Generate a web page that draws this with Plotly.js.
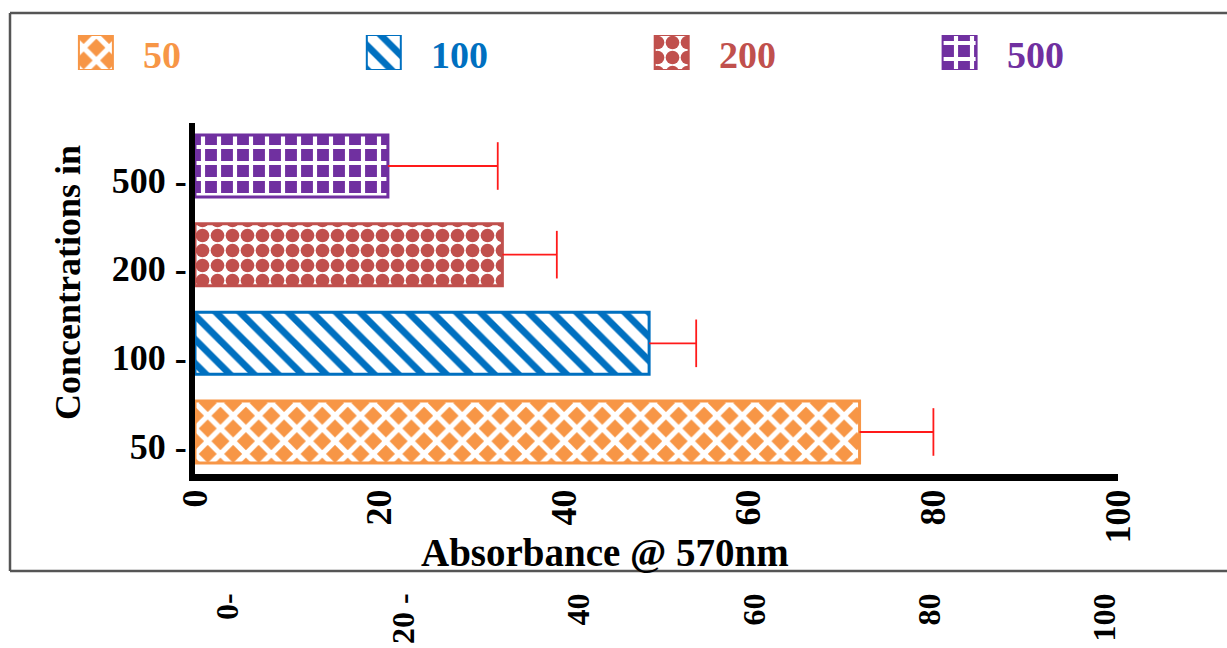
<!DOCTYPE html>
<html><head><meta charset="utf-8">
<script src="https://cdn.plot.ly/plotly-3.0.1.min.js"></script>
<style>html,body{margin:0;padding:0;background:#fff;}#chart{width:1227px;height:648px;}</style>
</head><body><div id="chart"></div>
<script>
// ---- data ----
const categories = ['50', '100', '200', '500'];
const absorbance = [72.0, 49.2, 33.3, 20.9];
const errorPlus = [8.0, 5.1, 5.9, 11.9];
const xTickValues = [0, 20, 40, 60, 80, 100];
const xTickLabels = ['0', '20', '40', '60', '80', '100'];
const lowerTickLabels = ['0-', '20 -', '40', '60', '80', '100'];
const xTitle = 'Absorbance @ 570nm';
const yTitle = 'Concentrations in';

// ---- styles ----
const seriesColors = ['#f79646', '#0070c0', '#c0504d', '#7030a0'];
const patShape = ['x', '\\', '.', '+'];
const patFg = ['#ffffff', '#0070c0', '#c0504d', '#ffffff'];
const patBg = ['#f79646', '#ffffff', '#ffffff', '#7030a0'];
const patSize = [18, 17, 15, 16];
const patSolid = [0.5, 0.4, 0.65, 0.45];
const errColor = '#ff1a1a';
const serif = 'Liberation Serif, Times New Roman, serif';

// ---- layout helpers (pixel -> paper) ----
const W = 1227, H = 648, L = 20, R = 109, T = 20, B = 174;
const PW = W - L - R, PH = H - T - B;
const px2x = p => (p - L) / PW;
const px2y = p => (H - B - p) / PH;

const patternOf = i => ({shape: patShape[i], fgcolor: patFg[i], bgcolor: patBg[i], fgopacity: 1,
                         size: patSize[i], solidity: patSolid[i], fillmode: 'overlay'});

const traces = [];
categories.forEach((c, i) => {
  traces.push({
    type: 'bar', orientation: 'h',
    y: [c], x: [absorbance[i]],
    xaxis: 'x', yaxis: 'y', name: c,
    marker: {color: patBg[i], line: {color: seriesColors[i], width: 3}, pattern: patternOf(i)},
    error_x: {type: 'data', symmetric: false, array: [errorPlus[i]], arrayminus: [0],
              color: errColor, thickness: 1.8, width: 0},
    hoverinfo: 'skip'
  });
});
traces.push({
  type: 'scatter', mode: 'markers',
  y: categories, x: absorbance.map((v, i) => v + errorPlus[i]),
  xaxis: 'x', yaxis: 'y',
  marker: {symbol: 'line-ns', size: 34, line: {color: errColor, width: 1.8}},
  hoverinfo: 'skip'
});
// legend swatches
categories.forEach((c, i) => {
  traces.push({
    type: 'bar', x: [i], y: [1],
    xaxis: 'x3', yaxis: 'y3', width: 0.118,
    marker: {color: patBg[i], line: {color: seriesColors[i], width: 2}, pattern: patternOf(i)},
    hoverinfo: 'skip'
  });
});
// hidden trace for lower duplicate axis
traces.push({
  type: 'scatter', mode: 'none', x: xTickValues, y: xTickValues.map(() => categories[0]),
  xaxis: 'x2', yaxis: 'y', hoverinfo: 'skip'
});

const tickFont = {family: serif, size: 36, color: '#000', weight: 'bold'};

const frameColor = '#555555';
const layout = {
  width: W, height: H,
  margin: {l: L, r: R, t: T, b: B, autoexpand: false},
  paper_bgcolor: '#ffffff', plot_bgcolor: 'rgba(0,0,0,0)',
  showlegend: false, bargap: 0.3, barmode: 'overlay',
  xaxis: {
    domain: [px2x(195), 1], range: [0, 100], anchor: 'y',
    tickmode: 'array', tickvals: xTickValues, ticktext: xTickLabels, tickangle: -90,
    ticks: '', tickfont: tickFont, ticklabelstandoff: -6,
    showline: true, linecolor: '#000', linewidth: 7,
    showgrid: false, zeroline: false, automargin: false, fixedrange: true
  },
  xaxis2: {
    overlaying: 'x', anchor: 'y', side: 'bottom',
    range: [(195 - 228) / 8.77, (1118 - 228) / 8.77],
    tickmode: 'array', tickvals: xTickValues, ticktext: lowerTickLabels, tickangle: -90,
    ticks: '', tickfont: {family: serif, size: 32, color: '#000', weight: 'bold'},
    ticklabelstandoff: 112,
    showline: false, showgrid: false, zeroline: false, automargin: false
  },
  yaxis: {
    domain: [0, px2y(123)], anchor: 'x', type: 'category',
    categoryorder: 'array', categoryarray: categories,
    range: [-0.474, 3.485],
    tickmode: 'array', tickvals: categories, ticktext: categories.map(c => c + ' -'),
    ticks: '', tickfont: tickFont, ticklabelshift: 14, ticklabelstandoff: -5,
    showline: true, linecolor: '#000', linewidth: 6,
    showgrid: false, zeroline: false, automargin: false
  },
  xaxis3: {domain: [0, 1], anchor: 'y3', range: [(L - 95.9) / 287.9, (W - R - 95.9) / 287.9], visible: false},
  yaxis3: {domain: [px2y(70), px2y(35)], anchor: 'x3', range: [0, 1], visible: false},
  annotations: [
    {text: xTitle, xref: 'paper', yref: 'paper', x: px2x(605), y: px2y(552),
     xanchor: 'center', yanchor: 'middle', showarrow: false,
     font: {family: serif, size: 39, color: '#000', weight: 'bold'}},
    {text: yTitle, xref: 'paper', yref: 'paper', x: px2x(68), y: px2y(283), textangle: -90,
     xanchor: 'center', yanchor: 'middle', showarrow: false,
     font: {family: serif, size: 36, color: '#000', weight: 'bold'}}
  ].concat(categories.map((c, i) => ({
    text: c, xref: 'x3', yref: 'paper', x: i, y: px2y(55), xshift: 45,
    xanchor: 'left', yanchor: 'middle', showarrow: false,
    font: {family: serif, size: 38, color: seriesColors[i], weight: 'bold'}
  }))),
  shapes: [
    {type: 'line', xref: 'paper', yref: 'paper', x0: px2x(10), x1: px2x(1240), y0: px2y(13), y1: px2y(13), line: {color: frameColor, width: 2.5}},
    {type: 'line', xref: 'paper', yref: 'paper', x0: px2x(10), x1: px2x(10), y0: px2y(13), y1: px2y(571), line: {color: frameColor, width: 2.5}},
    {type: 'line', xref: 'paper', yref: 'paper', x0: px2x(10), x1: px2x(1240), y0: px2y(571), y1: px2y(571), line: {color: frameColor, width: 2.5}}
  ]
};

Plotly.newPlot('chart', traces, layout, {staticPlot: true, displayModeBar: false});
</script>
</body></html>
